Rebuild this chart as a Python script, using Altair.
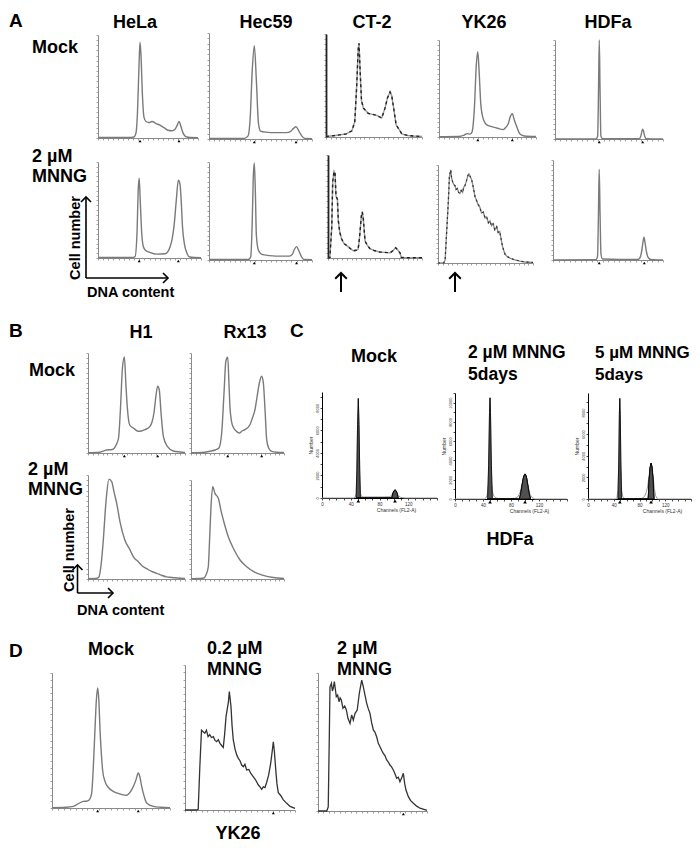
import altair as alt
import pandas as pd

# ====================== text ======================
letters = ["A", "B", "C", "D"]
lines_A = ["HeLa", "Hec59", "CT-2", "YK26", "HDFa"]
lines_B = ["H1", "Rx13"]
mock_txt = "Mock"
mnng_txt = ["2 µM", "MNNG"]
ylab_txt = "Cell number"
xlab_txt = "DNA content"
c_heads = [["Mock"], ["2 µM MNNG", "5days"], ["5 µM MNNG", "5days"]]
c_cell = "HDFa"
d_heads = [["Mock"], ["0.2 µM", "MNNG"], ["2 µM", "MNNG"]]
d_cell = "YK26"
c_x_title = "Channels (FL2-A)"
c_y_title = "Number"

# ====================== data (x: % of channel range, y: % of panel height) ======================
hela_mock_x = [0, 30, 36, 38, 39.5, 41, 42, 43, 44.5, 46, 48, 51, 54, 58, 62, 66, 70, 74, 77, 79, 81, 83, 85, 87, 89, 92, 100]
hela_mock_y = [0.5, 0.5, 1, 5, 25, 70, 93, 80, 40, 20, 16, 15, 16, 14, 12.5, 10, 7.5, 7, 8.5, 12, 16, 11, 5, 2, 1, 0.5, 0.3]
hec59_mock_x = [0, 34, 38, 40, 42, 44, 46, 48, 50, 55, 65, 75, 79, 82, 84.5, 87, 90, 93, 100]
hec59_mock_y = [0.5, 0.5, 3, 20, 65, 88, 55, 15, 7.5, 6.5, 6, 6, 7, 10, 11.6, 8, 3, 0.5, 0.3]
ct2_mock_x = [0, 10, 21, 27, 30, 32, 33.5, 34.4, 35.5, 37, 39, 44, 53, 58, 61.5, 64, 66.7, 68.5, 70, 73, 79, 85, 91, 100]
ct2_mock_y = [0.5, 1.5, 3, 6, 15, 50, 85, 91, 65, 35, 28, 23, 21, 18.4, 28, 38, 43.7, 40, 31, 12, 3, 1.5, 1, 0.5]
yk26_mock_x = [0, 20, 26, 29, 32, 34, 36.5, 38.5, 40, 41.5, 43, 45, 49, 55, 59.5, 66, 69, 71.5, 73.5, 75.6, 77.5, 80, 83.5, 88, 100]
yk26_mock_y = [0.3, 0.5, 2, 3.5, 3, 5, 30, 75, 88, 65, 35, 21, 12.7, 10.5, 9.3, 7.6, 10, 14, 21, 24, 18, 11, 3, 1, 0.5]
hdfa_mock_x = [0, 38, 39.5, 40.3, 41, 41.7, 42.5, 44, 78, 79.5, 80.5, 81.2, 82, 83, 84.5, 100]
hdfa_mock_y = [0, 0, 3, 50, 100, 50, 3, 0.3, 0.3, 3, 8, 10, 8, 3, 0.3, 0]

hela_mnng_x = [0, 33, 36, 38, 39, 40, 41, 42.5, 44, 46, 50, 57, 65, 68, 70, 72, 74, 76, 78, 79.6, 81, 82, 84, 86, 89, 100]
hela_mnng_y = [0.5, 0.5, 1.5, 30, 70, 83, 60, 25, 12, 8, 6, 4, 4.5, 7, 11.8, 20, 35, 60, 81, 77, 55, 33, 14, 6, 1, 0.3]
hec59_mnng_x = [0, 38, 40.5, 42, 43, 44, 45, 46, 48, 52, 65, 78, 81, 83, 85, 87, 89.5, 92, 100]
hec59_mnng_y = [0.5, 0.5, 3, 40, 85, 99, 70, 25, 10, 5.5, 4, 4, 6, 11, 13.6, 10, 4, 0.5, 0.3]
ct2_mnng_x = [0, 2, 4, 5, 6.4, 7.5, 8.5, 10, 11, 12.5, 14.5, 17, 20, 24, 27, 30, 32, 33, 34, 35.5, 36.5, 37.6,
              39.4, 42, 44.7, 50, 55, 60, 66, 69, 72, 74, 76.6, 78, 85, 100]
ct2_mnng_y = [0, 0.5, 30, 74, 84, 82, 60, 57, 36, 25, 18.4, 14, 12, 9, 7, 7.5, 8.4, 15, 24.6, 40.8, 44.7, 37.5,
              16.5, 12, 9, 7, 5.8, 5.5, 5, 7, 10, 8, 5, 0.5, 0.3, 0.2]
yk26_mnng_x = [0, 6, 7.5, 9, 10.9, 12, 13.4, 14.4, 15.4, 16.6, 17.9, 19, 20.4, 21.7, 23, 24.4, 25.9, 27, 28.4, 30,
               31.4, 32.6, 34, 35.4, 37, 38.9, 40.5, 42, 44, 45.8, 47.7, 49.5, 51.2, 53, 54.7, 56.3, 58, 59.8, 61.8,
               63.4, 65, 66.5, 68, 70.5, 73, 75.8, 80, 86, 92, 100]
yk26_mnng_y = [0, 0, 3, 30, 63, 88, 95, 86, 83, 80, 79, 75, 76, 72, 71, 74, 72, 77, 79, 84,
               89, 91, 88, 85, 78, 68, 64, 60, 57, 51, 52, 46, 47, 41, 43, 38, 40, 34, 37,
               31, 32, 24, 16.5, 9, 6.5, 5, 3.5, 2, 1, 0.5]
hdfa_mnng_x = [0, 39, 40.5, 41.3, 42, 42.8, 43.6, 45, 77, 79, 80.5, 81.7, 82.7, 83.7, 85, 86.5, 89, 100]
hdfa_mnng_y = [0, 0.3, 4, 45, 90.7, 45, 6, 1, 0.5, 2, 8, 17, 22.7, 17, 8, 2.5, 0.5, 0]

h1_mock_x = [0, 12, 19, 25, 29, 31.5, 33.5, 35.5, 37.5, 39, 40.5, 43, 46.7, 51.9, 55, 58.8, 63.9, 66, 68, 70,
             71.8, 73.5, 75.3, 77.7, 81.8, 88, 95, 100]
h1_mock_y = [0.3, 0.8, 3, 3.5, 8, 15, 45, 85, 96, 70, 46, 28, 25, 21.7, 22, 23.3, 26.7, 31, 40, 56.7,
             66.7, 63, 40, 16.7, 6.7, 2, 1, 0.5]
rx13_mock_x = [0, 15, 22, 26, 30, 33, 35.5, 37.5, 39.5, 40.8, 41.9, 43.5, 45.5, 48.5, 51.9, 55, 58, 63.4, 66,
               68.8, 71, 73.5, 76, 77.8, 79.6, 81.4, 83.5, 86.7, 92, 100]
rx13_mock_y = [0.3, 0.8, 2, 3, 5, 20, 60, 92, 95.7, 70, 46, 32, 25.7, 22, 20, 22, 23.3, 28.3, 35,
               43.3, 56, 70, 76.7, 70, 43.3, 13.3, 5, 1.7, 0.8, 0.5]
h1_mnng_x = [0, 8, 11, 13, 15.8, 18, 19.3, 21.6, 24.4, 27, 29.6, 33, 38, 43.3, 47, 51.9, 56, 60.5, 65, 70.8,
             76, 81, 86, 92, 100]
h1_mnng_y = [0.3, 0.5, 1.5, 10, 37.5, 68, 82, 96, 93.6, 83, 72.8, 55, 37.5, 28, 21, 16.6, 12.5, 10, 7.5, 5.5,
             3.5, 2, 1.5, 1, 0.5]
rx13_mnng_x = [0, 10, 14, 16.5, 18.6, 20, 21.5, 23.3, 25.8, 29.4, 32, 34.8, 40.1, 45.5, 52.7, 59.9, 68.8,
               77.7, 88.5, 100]
rx13_mnng_y = [0.3, 0.5, 1, 5, 12.4, 40, 73, 93.3, 86.5, 81.5, 70, 59.6, 42.7, 31, 19.2, 12.4, 6.7,
               3.7, 1.5, 0.5]

# panel C (x: channels FL2-A, y: number of events)
c_mock_model_x = [0, 44, 46, 47.5, 48.5, 49.5, 50.5, 51.5, 52.5, 53.5, 55, 58, 70, 85, 94, 97, 99, 100.5, 101.6,
                  103, 104.5, 106, 109, 115, 160]
c_mock_model_y = [0, 0, 60, 400, 2500, 6500, 8830, 6500, 2500, 400, 120, 90, 90, 90, 110, 250, 500, 680, 730,
                  660, 450, 220, 60, 0, 0]
c_mock_g1_x = [47.5, 48.5, 49.5, 50.5, 51.5, 52.5, 53.5]
c_mock_g1_y = [0, 2500, 6500, 8830, 6500, 2500, 0]
c_mock_g2_x = [97, 99, 100.5, 101.6, 103, 104.5, 106]
c_mock_g2_y = [0, 450, 650, 720, 640, 400, 0]

c_2um_model_x = [0, 42, 44, 46, 47.5, 48.5, 49.3, 50, 50.7, 51.5, 52.5, 54, 56, 59, 62, 75, 86, 90, 93, 95, 97,
                 98.5, 100, 101.5, 103, 105, 107, 110, 114, 160]
c_2um_model_y = [0, 0, 100, 400, 1500, 5000, 9000, 10500, 9000, 5000, 1500, 600, 250, 100, 50, 30, 80, 250, 700,
                 1300, 2000, 2450, 2600, 2450, 2000, 1200, 500, 150, 0, 0]
c_2um_g1_x = [46.5, 48, 49.3, 50, 50.7, 52, 53.5]
c_2um_g1_y = [0, 3500, 9000, 10500, 9000, 3500, 0]
c_2um_g2_x = [92, 94, 96, 98, 100, 102, 104, 106, 108]
c_2um_g2_y = [0, 600, 1500, 2300, 2600, 2300, 1400, 500, 0]

c_5um_model_x = [0, 43, 45, 46.5, 47.8, 48.7, 49.4, 50.1, 51, 52.3, 54, 56, 60, 75, 84, 88, 91, 93, 95, 96.5,
                 98, 99.5, 101, 103, 105, 108, 160]
c_5um_model_y = [0, 0, 150, 800, 3500, 7800, 9300, 7800, 3500, 800, 200, 60, 20, 20, 60, 250, 700, 1300, 2200,
                 2900, 3300, 3000, 2200, 1000, 300, 0, 0]
c_5um_g1_x = [46.5, 47.8, 48.7, 49.4, 50.1, 51, 52.3]
c_5um_g1_y = [0, 3500, 7800, 9300, 7800, 3500, 0]
c_5um_g2_x = [93.5, 95, 96.5, 98, 99.5, 101, 102.5]
c_5um_g2_y = [0, 1800, 2900, 3300, 2900, 1800, 0]

# panel D
d_mock_x = [0, 12, 18, 22, 26.5, 29, 31.5, 33.6, 35, 36.4, 37.6, 38.7, 39.7, 40.7, 42, 42.9, 44.9, 48, 51.9, 57.6,
            63.3, 65.5, 67.5, 69.5, 71.2, 73.1, 74.5, 76, 78, 80.2, 85.9, 92, 100]
d_mock_y = [0.3, 0.6, 1.2, 3, 4.9, 5, 6, 11, 30, 57.8, 80, 88.9, 80, 57.8, 38, 28, 19.7, 15, 12.3, 10.4,
            9.4, 11, 13.5, 17, 21, 25.9, 23, 16, 9, 3.7, 1.2, 0.6, 0.3]
d_02_x = [0, 10, 12, 13.5, 15, 16.5, 18, 19.5, 21, 22.5, 24, 25.8, 27.3, 28.8, 30.3, 31.8, 33.3, 34.8, 36, 37.3,
          38.5, 39.4, 40.3, 41, 41.8, 42.8, 43.9, 45.5, 47, 48.5, 50, 51.5, 53, 54.5, 56, 58, 60, 62, 64, 66.7,
          68.2, 69.7, 71.2, 72.7, 74.2, 76, 77.9, 79.2, 80.3, 81.3, 82.4, 83.6, 84.8, 87, 89.4, 92.5, 95.5, 100]
d_02_y = [0, 0, 0.5, 30, 55, 54, 52.9, 55, 50.6, 52, 50, 50.6, 48, 47.1, 48.5, 46, 44.5, 43.2, 52, 64.4,
          70.1, 74, 81.6, 77, 71.3, 58, 48.3, 42, 38, 35.6, 34, 31, 29.9, 31.5, 27.6, 28, 25, 23, 21, 17.2,
          16, 14.3, 16, 15.5, 19, 24, 32.2, 40, 47.1, 40, 28.7, 18, 12, 10, 7, 4.6, 2.5, 1.1]
d_2_x = [0, 8, 9.4, 10.3, 11, 12.3, 13.2, 14, 15, 16.8, 18, 19.3, 20.3, 21.4, 22.9, 24.5, 26, 27.5, 29.4, 30.9,
         32.4, 34, 36, 37.9, 40.1, 41.6, 43.1, 44.7, 46.2, 47.7, 49.2, 50.8, 52.3, 53.8, 55.3, 56.9, 58.4, 59.9,
         61.5, 63, 64.5, 66, 67.5, 69.1, 70.6, 72.2, 73.7, 75.2, 76.8, 78.3, 79.5, 80.7, 82.9, 85, 87.5, 90.5,
         93.6, 100]
d_2_y = [0, 0, 3, 50, 90, 92.5, 87, 89, 93.7, 82.8, 84, 79.2, 82, 80.4, 74.4, 76, 73.2, 67.2, 63.5, 69.6,
         65.9, 70.8, 73.2, 85.3, 94.9, 90, 84, 78, 74, 70.8, 64, 58.7, 57, 53.8, 49, 46.6, 44, 41.8,
         40, 37, 35.5, 33.3, 32, 29.7, 27, 23.7, 24.5, 21.2, 24, 27.3, 20, 15.2, 10.4, 7.5, 5.6, 3.5,
         2, 0.5]

# G1 / G2 gate markers (same units as x)
markers = {
    "hela_mock": [42, 81], "hec59_mock": [44, 84.5], "yk26_mock": [40, 75.6], "hdfa_mock": [41, 81.2],
    "hela_mnng": [40, 78], "hec59_mnng": [44, 85], "hdfa_mnng": [42, 83],
    "h1_mock": [37.5, 71.8], "rx13_mock": [39.5, 76],
    "c_mock": [50.5, 101.6], "c_2um": [50, 100], "c_5um": [49.4, 98],
    "d_mock": [38.7, 73.1], "d_02": [80.3], "d_2": [78.3],
}

# ====================== layout (page pixels: x0, x1, top, base) ======================
W, H = 684, 835
OX, OY = 8, 8
FONT = "Liberation Sans"
GRAY = "#8a8a8a"

GEOM = {
    "hela_mock": (98, 198, 35, 138), "hec59_mock": (209, 312, 33, 139), "ct2_mock": (326, 422, 34, 137),
    "yk26_mock": (439, 536, 40, 137), "hdfa_mock": (555, 663, 40, 139),
    "hela_mnng": (98, 201, 162, 258), "hec59_mnng": (209, 312, 162, 260), "ct2_mnng": (328, 422, 155, 258),
    "yk26_mnng": (438, 533, 165, 263), "hdfa_mnng": (553, 663, 160, 260),
    "h1_mock": (88, 185, 353, 453), "rx13_mock": (191, 284, 353, 453),
    "h1_mnng": (88, 185, 475, 579), "rx13_mnng": (191, 284, 480, 579),
    "c_mock": (322, 437, 392, 498), "c_2um": (455, 567, 393, 499), "c_5um": (588, 691, 393, 499),
    "d_mock": (52, 170, 673, 808), "d_02": (185, 295, 665, 810), "d_2": (318, 427, 673, 811),
}


def geom(key):
    x0, x1, top, base = GEOM[key]
    return x0 - OX, x1 - OX, top - OY, base - OY


def ticks(lo, hi, step):
    n = int(round((hi - lo) / step))
    return [lo + i * step for i in range(n + 1)]


def histogram(key, xs, ys, style="gray", ydark=False):
    x0, x1, top, base = geom(key)
    sx = alt.Scale(domain=[0, 100], range=[x0, x1], nice=False, zero=False)
    sy = alt.Scale(domain=[0, 100], range=[base, top], nice=False, zero=False)
    ax = alt.Axis(orient="bottom", offset=base - H, values=ticks(0, 100, 5), labels=False, title=None,
                  grid=False, domainColor=GRAY, domainWidth=1, tickColor=GRAY, tickSize=2, tickWidth=0.8)
    ay = alt.Axis(orient="left", offset=-x0, values=ticks(0, 100, 5), labels=False, title=None,
                  grid=False, domainColor="#222222" if ydark else GRAY, domainWidth=1.8 if ydark else 1,
                  tickColor=GRAY, tickSize=2, tickWidth=0.8)
    enc = dict(x=alt.X("x:Q", scale=sx, axis=ax), y=alt.Y("y:Q", scale=sy, axis=ay))
    df = pd.DataFrame({"x": xs, "y": ys})
    parts = []
    if style == "gray":
        parts.append(alt.Chart(df).mark_line(color="#7a7a7a", strokeWidth=1.4, interpolate="monotone").encode(**enc))
    elif style == "dash":
        parts.append(alt.Chart(df).mark_line(color="#9a9a9a", strokeWidth=1.4).encode(**enc))
        parts.append(alt.Chart(df).mark_line(color="#222222", strokeWidth=1.4, strokeDash=[3, 3]).encode(**enc))
    elif style == "jag":
        parts.append(alt.Chart(df).mark_line(color="#8a8a8a", strokeWidth=1.3).encode(**enc))
        parts.append(alt.Chart(df).mark_line(color="#333333", strokeWidth=1.2, strokeDash=[2, 3]).encode(**enc))
    else:
        parts.append(alt.Chart(df).mark_line(color="#333333", strokeWidth=1.3).encode(**enc))
    if key in markers:
        m = markers[key]
        mdf = pd.DataFrame({"x": m, "y": [0] * len(m)})
        parts.append(alt.Chart(mdf).mark_point(shape="triangle-up", filled=True, color="black", opacity=1,
                                               size=9, yOffset=3).encode(**enc))
    return alt.layer(*parts)


def flow_panel(key, mx, my, g1x, g1y, g2x, g2y, ymax):
    x0, x1, top, base = geom(key)
    sx = alt.Scale(domain=[0, 160], range=[x0, x1], nice=False, zero=False)
    sy = alt.Scale(domain=[0, ymax], range=[base, top], nice=False, zero=False)
    ax = alt.Axis(orient="bottom", offset=base - H, values=ticks(0, 160, 10), format="d",
                  labelExpr="datum.value % 40 == 0 && datum.value < 160 ? datum.label : ''",
                  labelFontSize=4.5, labelFont=FONT, labelColor="#333333", labelPadding=1,
                  labelFlush=False, labelOverlap=False,
                  title=c_x_title, titleFont=FONT, titleFontSize=5, titleFontWeight="normal",
                  titleColor="#333333", titleX=x0 + 74, titleY=9, titleBaseline="top",
                  grid=False, domainColor="black", domainWidth=1, tickColor="black", tickSize=2, tickWidth=0.7)
    ay = alt.Axis(orient="left", offset=-x0, values=ticks(0, int(ymax // 1000) * 1000, 1000), format="d",
                  labelExpr="datum.value % 2000 == 0 ? datum.label : ''",
                  labelFontSize=4, labelFont=FONT, labelColor="#333333", labelPadding=1, labelAngle=270,
                  labelAlign="center", labelBaseline="bottom", labelFlush=False, labelOverlap=False,
                  title=c_y_title, titleFont=FONT, titleFontSize=5, titleFontWeight="normal",
                  titleColor="#333333", titlePadding=2,
                  grid=False, domainColor="black", domainWidth=1, tickColor="black", tickSize=2, tickWidth=0.7)
    enc = dict(x=alt.X("x:Q", scale=sx, axis=ax), y=alt.Y("y:Q", scale=sy, axis=ay))
    model = pd.DataFrame({"x": mx, "y": my})
    fills = pd.DataFrame({"x": g1x + g2x, "y": g1y + g2y,
                          "peak": ["G1"] * len(g1x) + ["G2"] * len(g2x)})
    m = markers[key]
    mdf = pd.DataFrame({"x": m, "y": [0] * len(m)})
    return alt.layer(
        alt.Chart(model).mark_line(color="#8c8c8c", strokeWidth=0.9).encode(**enc),
        alt.Chart(fills).mark_area(color="#505050", stroke="black", strokeWidth=0.8, opacity=1)
        .encode(detail="peak:N", **enc),
        alt.Chart(mdf).mark_point(shape="triangle-up", filled=True, color="black", opacity=1,
                                  size=14, yOffset=3).encode(**enc),
    )


def label(text, x, y, align="left", size=18, angle=0):
    return alt.Chart().mark_text(text=text, align=align, baseline="alphabetic", font=FONT, fontWeight="bold",
                                 fontSize=size, angle=angle, color="black").encode(
        x=alt.value(x - OX), y=alt.value(y - OY))


CHEV = "M-0.8,0.8L0,0L0.8,0.8"


def arrow(x1, y1, x2, y2, width=1.6, head=156):
    """line from (x1,y1) tail to (x2,y2) tip, page pixels"""
    line = alt.Chart().mark_rule(color="black", strokeWidth=width).encode(
        x=alt.value(x1 - OX), y=alt.value(y1 - OY), x2=alt.value(x2 - OX), y2=alt.value(y2 - OY))
    ang = 90 if x2 > x1 else 0
    tip = alt.Chart().mark_point(shape=CHEV, angle=ang, filled=False, stroke="black", strokeWidth=width,
                                 size=head, opacity=1).encode(x=alt.value(x2 - OX), y=alt.value(y2 - OY))
    return [line, tip]


layers = [
    histogram("hela_mock", hela_mock_x, hela_mock_y),
    histogram("hec59_mock", hec59_mock_x, hec59_mock_y),
    histogram("ct2_mock", ct2_mock_x, ct2_mock_y, style="dash", ydark=True),
    histogram("yk26_mock", yk26_mock_x, yk26_mock_y),
    histogram("hdfa_mock", hdfa_mock_x, hdfa_mock_y),
    histogram("hela_mnng", hela_mnng_x, hela_mnng_y),
    histogram("hec59_mnng", hec59_mnng_x, hec59_mnng_y),
    histogram("ct2_mnng", ct2_mnng_x, ct2_mnng_y, style="dash", ydark=True),
    histogram("yk26_mnng", yk26_mnng_x, yk26_mnng_y, style="jag"),
    histogram("hdfa_mnng", hdfa_mnng_x, hdfa_mnng_y),
    histogram("h1_mock", h1_mock_x, h1_mock_y),
    histogram("rx13_mock", rx13_mock_x, rx13_mock_y),
    histogram("h1_mnng", h1_mnng_x, h1_mnng_y),
    histogram("rx13_mnng", rx13_mnng_x, rx13_mnng_y),
    flow_panel("c_mock", c_mock_model_x, c_mock_model_y, c_mock_g1_x, c_mock_g1_y, c_mock_g2_x, c_mock_g2_y, 9400),
    flow_panel("c_2um", c_2um_model_x, c_2um_model_y, c_2um_g1_x, c_2um_g1_y, c_2um_g2_x, c_2um_g2_y, 11000),
    flow_panel("c_5um", c_5um_model_x, c_5um_model_y, c_5um_g1_x, c_5um_g1_y, c_5um_g2_x, c_5um_g2_y, 9800),
    histogram("d_mock", d_mock_x, d_mock_y),
    histogram("d_02", d_02_x, d_02_y, style="dark"),
    histogram("d_2", d_2_x, d_2_y, style="dark"),
]

# ---- section A text ----
layers.append(label(letters[0], 9, 27, size=19))
for name, cx in zip(lines_A, [135, 266, 372, 484, 608]):
    layers.append(label(name, cx, 28, align="center"))
layers += [label(mock_txt, 32, 52.5), label(mnng_txt[0], 32, 162), label(mnng_txt[1], 32, 182)]
layers.append(label(ylab_txt, 80, 238, align="center", size=14.5, angle=270))
layers.append(label(xlab_txt, 87, 296.5, size=14.5))
layers += arrow(86, 278, 86, 197)
layers += arrow(86, 278, 168, 278)
layers += arrow(341, 292, 341, 273, width=2, head=210)
layers += arrow(455, 292, 455, 273, width=2, head=210)

# ---- section B text ----
layers.append(label(letters[1], 9, 337, size=19))
for name, cx in zip(lines_B, [141, 245]):
    layers.append(label(name, cx, 338, align="center"))
layers += [label(mock_txt, 29, 376), label(mnng_txt[0], 28, 475), label(mnng_txt[1], 28, 495)]
layers.append(label(ylab_txt, 73.5, 550, align="center", size=14.5, angle=270))
layers.append(label(xlab_txt, 77, 615, size=14.5))
layers += arrow(77.5, 593, 77.5, 565)
layers += arrow(77.5, 593, 113, 593)

# ---- section C text ----
layers.append(label(letters[2], 290, 337, size=19))
layers.append(label(c_heads[0][0], 374, 362, align="center"))
layers += [label(c_heads[1][0], 468, 358, size=17.5), label(c_heads[1][1], 468, 380, size=17.5)]
layers += [label(c_heads[2][0], 595, 358, size=17), label(c_heads[2][1], 595, 380, size=17)]
layers.append(label(c_cell, 510, 545, align="center"))

# ---- section D text ----
layers.append(label(letters[3], 9, 657, size=19))
layers.append(label(d_heads[0][0], 111, 655, align="center"))
layers += [label(d_heads[1][0], 207, 654), label(d_heads[1][1], 207, 675)]
layers += [label(d_heads[2][0], 337, 654), label(d_heads[2][1], 337, 675)]
layers.append(label(d_cell, 238, 839, align="center"))

chart = (
    alt.layer(*layers)
    .resolve_scale(x="independent", y="independent")
    .properties(width=W, height=H, padding=0, autosize=alt.AutoSizeParams(type="none"))
    .configure_view(stroke=None)
    .configure_axis(grid=False)
)

chart.save("out.html", embed_options={"renderer": "svg", "actions": False})
